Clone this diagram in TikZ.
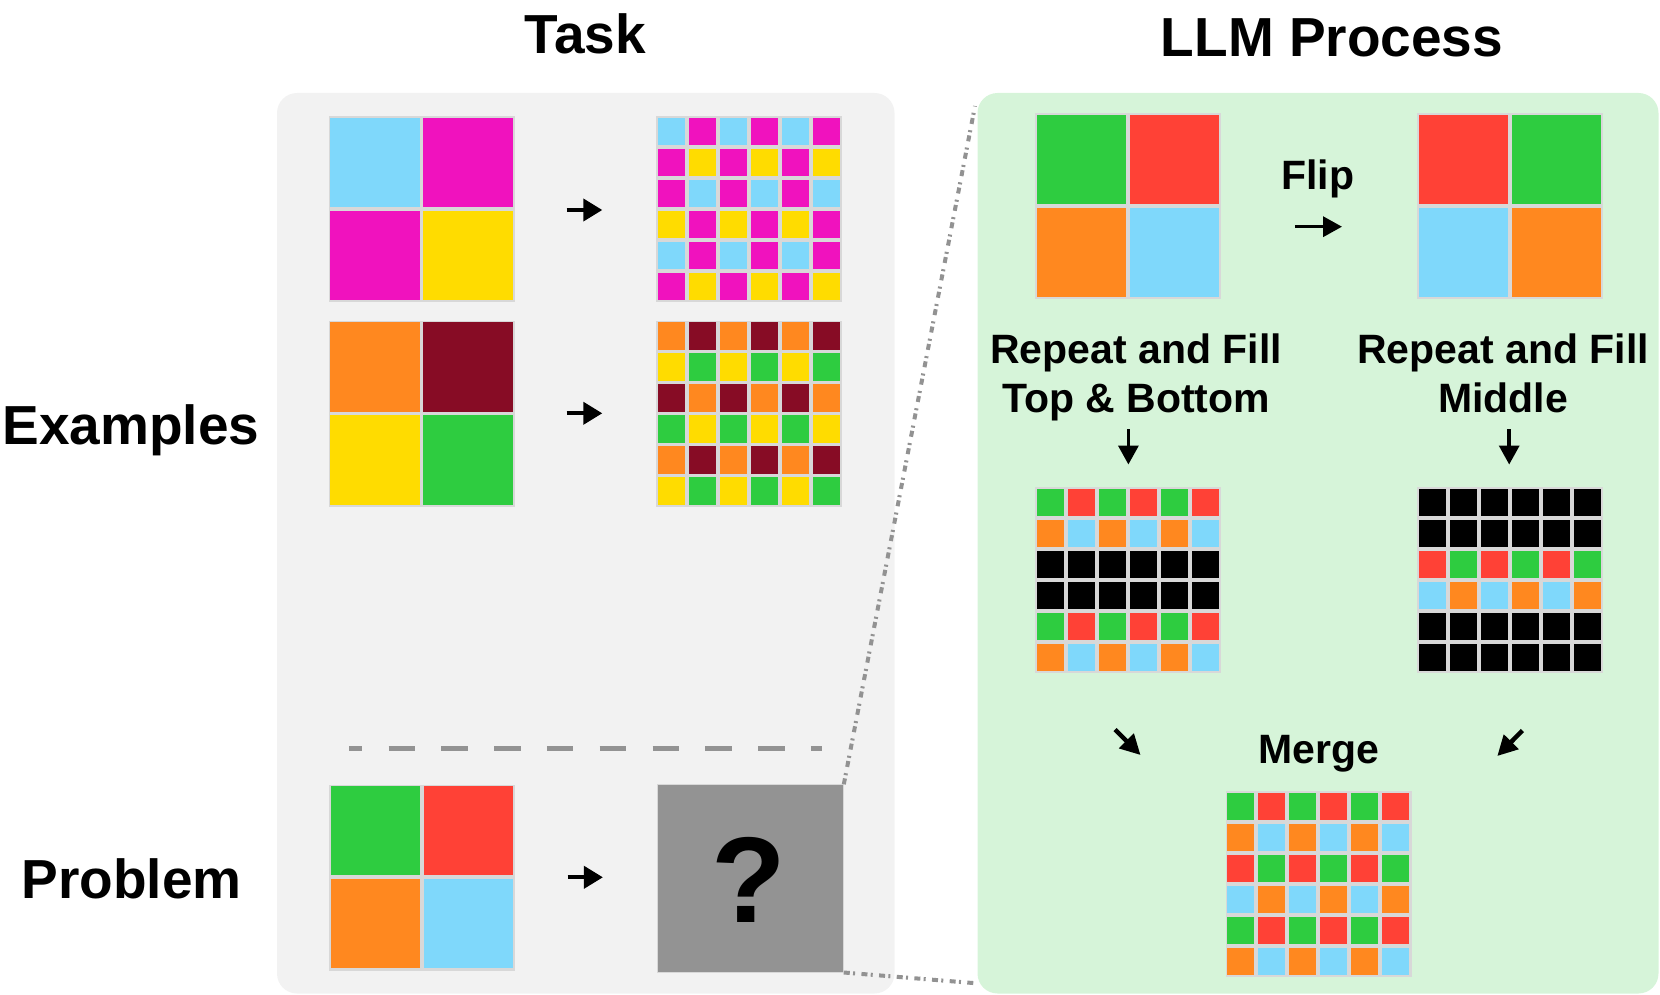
\documentclass[tikz,border=0pt]{standalone}
\usepackage{fontspec}
\setmainfont{Liberation Sans}
\usetikzlibrary{arrows.meta}
\definecolor{lb}{HTML}{7FD8FB}
\definecolor{mg}{HTML}{F012BE}
\definecolor{yl}{HTML}{FFDC00}
\definecolor{og}{HTML}{FF881F}
\definecolor{mr}{HTML}{870C25}
\definecolor{gn}{HTML}{2ECC40}
\definecolor{rd}{HTML}{FF4136}
\definecolor{bk}{HTML}{000000}
\definecolor{gridgray}{HTML}{D8D8D8}
\definecolor{taskbg}{HTML}{F2F2F2}
\definecolor{llmbg}{HTML}{D6F4D9}
\definecolor{qbox}{HTML}{939393}
\definecolor{dashgray}{HTML}{939393}
\definecolor{dotgray}{HTML}{929292}
\newcommand\arcgrid[5]{%
  \node[gridbg, anchor=north west] (#1) at (#2,#3) {};
  \foreach \cl [count=\k from 0] in {#5} {%
    \pgfmathtruncatemacro\rr{floor(\k/#4)}%
    \pgfmathtruncatemacro\cc{\k-\rr*#4}%
    \pgfmathsetmacro\pp{186/#4}%
    \fill[\cl] ({#2+\cc*\pp+1.9},{#3+\rr*\pp+1.9}) rectangle ({#2+(\cc+1)*\pp-1.9},{#3+(\rr+1)*\pp-1.9});
  }}
\begin{document}
\begin{tikzpicture}[x=1pt,y=-1pt,
  gridbg/.style={fill=gridgray, minimum width=186pt, minimum height=186pt, inner sep=0pt, draw=none},
  panel/.style={rounded corners=20pt, draw=none},
  bigtitle/.style={font=\bfseries\fontsize{55pt}{60pt}\selectfont, inner sep=0pt, anchor=base},
  midtext/.style={font=\bfseries\fontsize{41pt}{46pt}\selectfont, inner sep=0pt, anchor=base, align=center},
  arr/.style={line width=4pt, -{Triangle[length=19pt,width=22pt]}},
  thinarr/.style={line width=3.5pt, -{Triangle[length=19pt,width=20pt]}},
  sepline/.style={draw=dashgray, line width=4.5pt, dash pattern=on 26.5pt off 26.3pt, dash phase=13.3pt},
  zoomline/.style={draw=dotgray, line width=4pt, dash pattern=on 6pt off 3.3pt on 2pt off 6.4pt}
]
\useasboundingbox (0,0) rectangle (1660,995);
% panels
\fill[taskbg, panel] (277,93) rectangle (894.5,993.5);
\fill[llmbg, panel] (977.5,93) rectangle (1658.5,993.5);
% titles
\node[bigtitle] (ttask) at (585.5,53.3) {Task};
\node[bigtitle] (tllm) at (1332,56.7) {LLM Process};
\node[bigtitle] (texamples) at (131,444) {Examples};
\node[bigtitle] (tproblem) at (131.7,898.3) {Problem};
% example 1
\arcgrid{e1in}{328.4}{116}{2}{lb,mg,mg,yl}
\arcgrid{e1out}{656}{116}{6}{lb,mg,lb,mg,lb,mg, mg,yl,mg,yl,mg,yl, mg,lb,mg,lb,mg,lb, yl,mg,yl,mg,yl,mg, lb,mg,lb,mg,lb,mg, mg,yl,mg,yl,mg,yl}
% example 2
\arcgrid{e2in}{328.4}{320.5}{2}{og,mr,yl,gn}
\arcgrid{e2out}{656}{320.5}{6}{og,mr,og,mr,og,mr, yl,gn,yl,gn,yl,gn, mr,og,mr,og,mr,og, gn,yl,gn,yl,gn,yl, og,mr,og,mr,og,mr, yl,gn,yl,gn,yl,gn}
% separator
\coordinate (sepA) at (349,748.3);
\coordinate (sepB) at (822.3,748.3);
\draw[sepline] (sepA) -- (sepB);
% problem
\arcgrid{pin}{328.8}{784.3}{2}{gn,rd,og,lb}
\node[fill=qbox, draw=gridgray, line width=0.8pt, minimum width=186.4pt, minimum height=187.4pt, inner sep=0pt, anchor=north west] (qb) at (656.6,784.3) {};
\node[font=\bfseries\fontsize{122pt}{130pt}\selectfont, inner sep=0pt, anchor=base] (qmark) at (749,922.7) {?};
% task arrows
\coordinate (a1s) at (566.7,210); \coordinate (a1e) at (602.3,210);
\coordinate (a2s) at (566.7,413.3); \coordinate (a2e) at (602.3,413.3);
\coordinate (a3s) at (567.5,877.3); \coordinate (a3e) at (602.9,877.3);
\draw[arr] (a1s) -- (a1e);
\draw[arr] (a2s) -- (a2e);
\draw[arr] (a3s) -- (a3e);
% zoom lines
\coordinate (zt) at (975,106);
\coordinate (zb) at (976.5,983.3);
\draw[zoomline] (qb.north east) -- (zt);
\draw[zoomline] (qb.south east) -- (zb);
% LLM process
\arcgrid{ltl}{1035}{113}{2}{gn,rd,og,lb}
\arcgrid{ltr}{1416.7}{113}{2}{rd,gn,lb,og}
\node[midtext] (tflip) at (1317.7,189.3) {Flip};
\coordinate (fs) at (1294.8,226.7); \coordinate (fe) at (1342,226.7);
\draw[thinarr] (fs) -- (fe);
\node[midtext] (trl1) at (1136,363.3) {Repeat and Fill};
\node[midtext] (trl2) at (1136,412.7) {Top \& Bottom};
\node[midtext] (trr1) at (1503,363.3) {Repeat and Fill};
\node[midtext] (trr2) at (1503,412.7) {Middle};
\coordinate (dls) at (1128.4,429.3); \coordinate (dle) at (1128.4,464.5);
\coordinate (drs) at (1509.2,429.3); \coordinate (dre) at (1509.2,464.5);
\draw[thinarr] (dls) -- (dle);
\draw[thinarr] (drs) -- (dre);
\arcgrid{lml}{1035}{487}{6}{gn,rd,gn,rd,gn,rd, og,lb,og,lb,og,lb, bk,bk,bk,bk,bk,bk, bk,bk,bk,bk,bk,bk, gn,rd,gn,rd,gn,rd, og,lb,og,lb,og,lb}
\arcgrid{lmr}{1416.7}{487}{6}{bk,bk,bk,bk,bk,bk, bk,bk,bk,bk,bk,bk, rd,gn,rd,gn,rd,gn, lb,og,lb,og,lb,og, bk,bk,bk,bk,bk,bk, bk,bk,bk,bk,bk,bk}
\coordinate (mls) at (1115,729.5); \coordinate (mle) at (1140.5,755);
\coordinate (mrs) at (1522.4,730.5); \coordinate (mre) at (1497.3,756);
\draw[arr, line width=4.5pt, -{Triangle[length=20pt,width=20pt]}] (mls) -- (mle);
\draw[arr, line width=4.5pt, -{Triangle[length=20pt,width=20pt]}] (mrs) -- (mre);
\node[midtext] (tmerge) at (1318.8,763.3) {Merge};
\arcgrid{lbot}{1225.3}{790.7}{6}{gn,rd,gn,rd,gn,rd, og,lb,og,lb,og,lb, rd,gn,rd,gn,rd,gn, lb,og,lb,og,lb,og, gn,rd,gn,rd,gn,rd, og,lb,og,lb,og,lb}
\end{tikzpicture}
\end{document}
